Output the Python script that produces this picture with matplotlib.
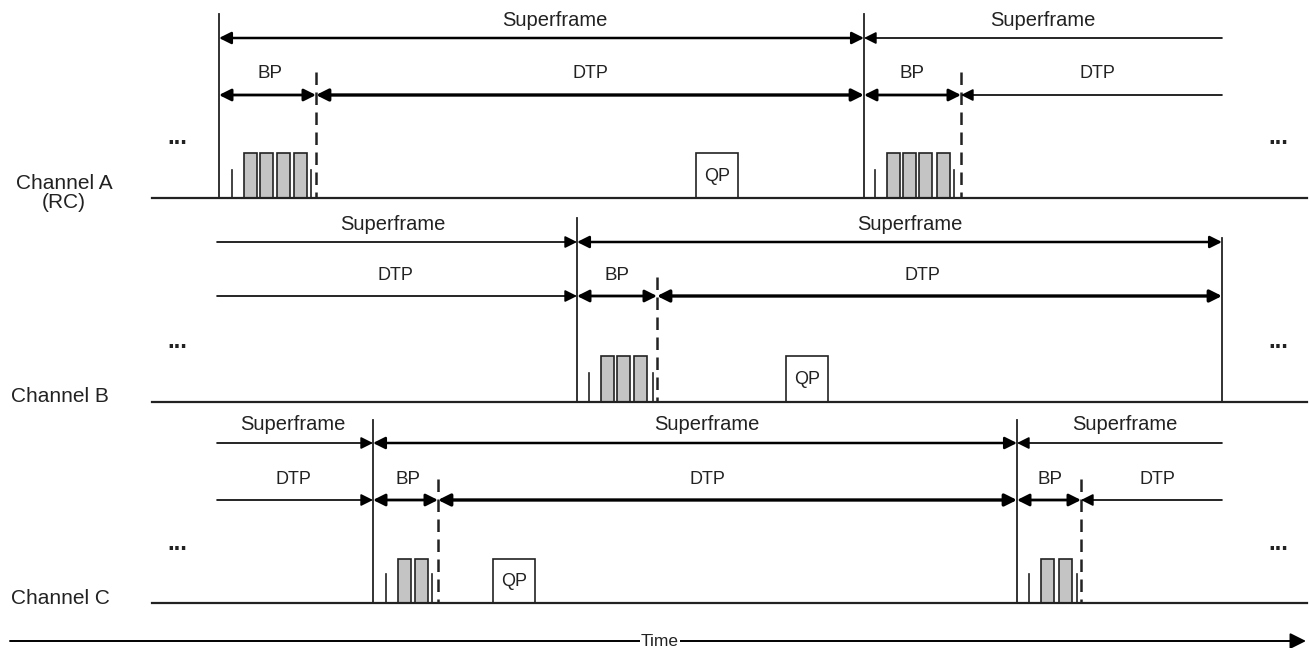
import matplotlib
matplotlib.use('Agg')
import matplotlib.pyplot as plt
from matplotlib.patches import Rectangle

plt.rcParams['font.family'] = ['Liberation Sans', 'DejaVu Sans']

W, H = 1309, 648

# rows of the timing diagram
channel_names = ['Channel A\n(RC)', 'Channel B', 'Channel C']
channel_label_x = [64, 60, 60]
base_y = [198, 402, 603]
sf_y = [38, 242, 443]
period_y = [95, 296, 500]
base_left = 152

# superframe boundaries and the top of their vertical lines
sf_bounds = [[219, 864], [577, 1222], [373, 1017]]
sf_bound_top = [[14, 14], [218, 238], [420, 420]]

# superframe arrows: (x0, x1, heads, label x)
sf_arrows = [
    [(219, 864, '<|-|>', 555), (864, 1222, '<|-', 1043)],
    [(217, 577, '-|>', 393), (577, 1222, '<|-|>', 910)],
    [(217, 373, '-|>', 293), (373, 1017, '<|-|>', 707), (1017, 1222, '<|-', 1125)],
]

# BP / DTP arrows: (x0, x1, label, heads, label x)
period_arrows = [
    [(219, 316, 'BP', '<|-|>', 270), (316, 864, 'DTP', '<|-|>', 590),
     (864, 961, 'BP', '<|-|>', 912), (961, 1222, 'DTP', '<|-', 1097)],
    [(217, 577, 'DTP', '-|>', 395), (577, 657, 'BP', '<|-|>', 617),
     (657, 1222, 'DTP', '<|-|>', 922)],
    [(217, 373, 'DTP', '-|>', 293), (373, 438, 'BP', '<|-|>', 408),
     (438, 1017, 'DTP', '<|-|>', 707), (1017, 1081, 'BP', '<|-|>', 1050),
     (1081, 1222, 'DTP', '<|-', 1157)],
]

# beacon period end (dashed line)
bp_end = [[316, 961], [657], [438, 1081]]
dash_top = [72, 277, 479]

# beacon slots
beacon_ticks = [[(232, 311), (875, 954)], [(589, 653)], [(386, 432), (1029, 1077)]]
beacon_slots = [[[244, 260, 277, 294], [887, 903, 919, 937]],
                [[601, 617, 634]],
                [[398, 415], [1041, 1059]]]
slot_w = 12.5
slot_top = [153, 356, 559]
tick_top = [170, 373, 574]

# QP boxes
qp_x = [696, 786, 493]
qp_w = 42

fig = plt.figure(figsize=(W / 100, H / 100), dpi=100)
ax = fig.add_axes([0, 0, 1, 1])
ax.set_xlim(0, W)
ax.set_ylim(H, 0)
ax.axis('off')

ink = '#222222'


def arrow(x0, x1, y, style, lw):
    ax.annotate('', xy=(x1, y), xytext=(x0, y),
                arrowprops=dict(arrowstyle=style, color='black', lw=lw,
                                shrinkA=0, shrinkB=0, mutation_scale=18))


for i in range(3):
    by = base_y[i]
    ax.plot([base_left, W - 2], [by, by], color=ink, lw=1.6)
    ax.text(channel_label_x[i], by - 5, channel_names[i], ha='center', va='center',
            fontsize=15, color=ink, linespacing=1.05)

    for x, top in zip(sf_bounds[i], sf_bound_top[i]):
        ax.plot([x, x], [top, by], color=ink, lw=1.3)

    for x0, x1, style, lx in sf_arrows[i]:
        lw = 1.8 if style == '<|-|>' else 1.2
        arrow(x0, x1, sf_y[i], style, lw)
        ax.text(lx, sf_y[i] - 18, 'Superframe', ha='center', va='center',
                fontsize=14.5, color=ink)

    for x0, x1, lab, style, lx in period_arrows[i]:
        if style == '<|-|>':
            lw = 2.4 if lab == 'DTP' else 2.0
        else:
            lw = 1.2
        arrow(x0, x1, period_y[i], style, lw)
        ax.text(lx, period_y[i] - 21, lab, ha='center', va='center',
                fontsize=13.5 if lab == 'BP' else 13, color=ink)

    for x in bp_end[i]:
        ax.plot([x, x], [dash_top[i], by], color=ink, lw=1.8, dashes=(5, 3))

    for (t0, t1), slots in zip(beacon_ticks[i], beacon_slots[i]):
        for t in (t0, t1):
            ax.plot([t, t], [tick_top[i], by], color=ink, lw=1.2)
        for sx in slots:
            ax.add_patch(Rectangle((sx, slot_top[i]), slot_w, by - slot_top[i],
                                   facecolor='#c4c4c4', edgecolor=ink, lw=1.2))

    ax.add_patch(Rectangle((qp_x[i], slot_top[i]), qp_w, by - slot_top[i],
                           facecolor='white', edgecolor=ink, lw=1.2))
    ax.text(qp_x[i] + qp_w / 2, (slot_top[i] + by) / 2 + 1, 'QP', ha='center',
            va='center', fontsize=13, color=ink)

    for dx in (177, 1278):
        ax.text(dx, by - 60, '...', ha='center', va='center', fontsize=17,
                fontweight='bold', color=ink)

# time axis
ax.annotate('', xy=(1306, 641), xytext=(10, 641),
            arrowprops=dict(arrowstyle='-|>', color='black', lw=1.4,
                            shrinkA=0, shrinkB=0, mutation_scale=24))
ax.text(660, 641, 'Time', ha='center', va='center', fontsize=12.5, color=ink,
        bbox=dict(facecolor='white', edgecolor='none', pad=1))

fig.savefig('out.png', dpi=100)
